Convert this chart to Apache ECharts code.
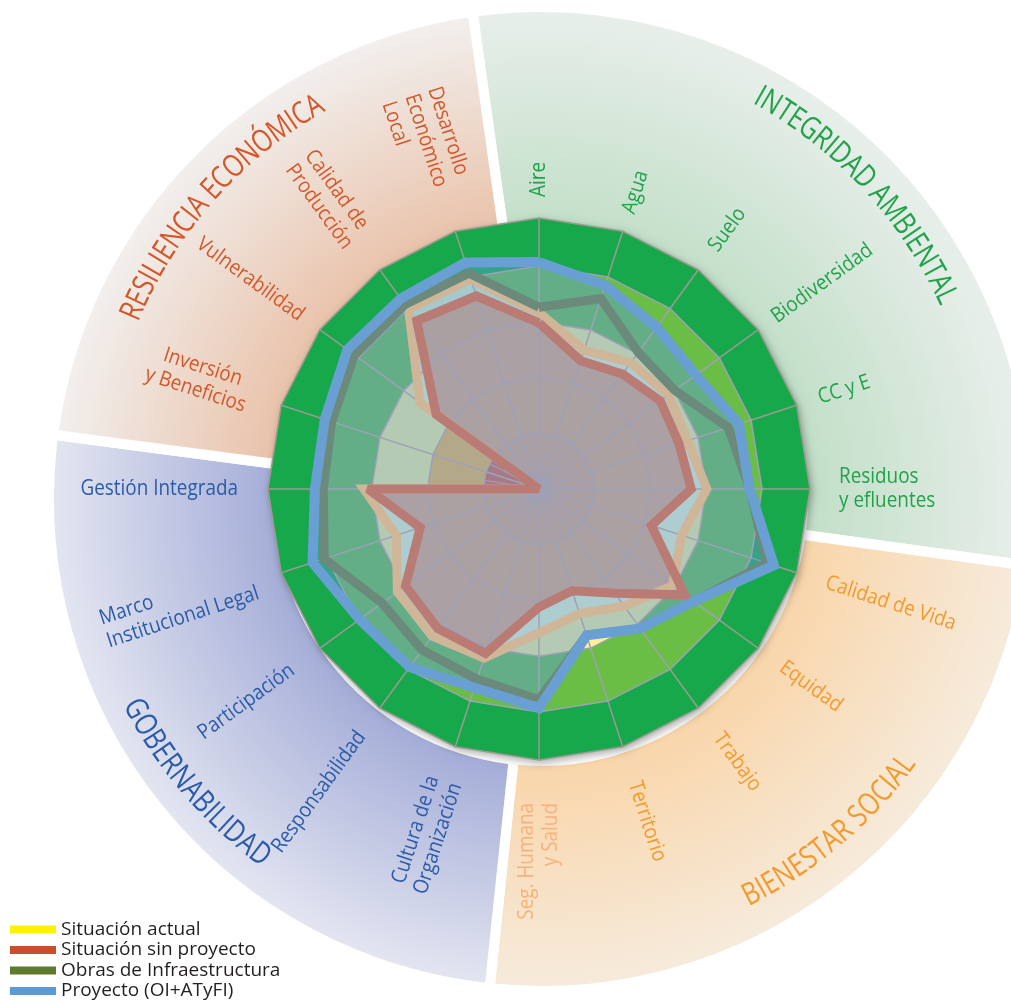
<!DOCTYPE html>
<html><head><meta charset="utf-8">
<script src="https://cdn.jsdelivr.net/npm/echarts@6/dist/echarts.min.js"></script>
<style>html,body{margin:0;padding:0;background:#fff}#c{width:1011px;height:1003px}</style>
</head><body><div id="c"></div>
<script>
// ---------------- DATA ----------------
const indicatorNames = ['Aire','Agua','Suelo','Biodiversidad','CC y E','Residuos y efluentes',
  'Calidad de Vida','Equidad','Trabajo','Territorio','Seg. Humana y Salud',
  'Cultura de la Organización','Responsabilidad','Participación','Marco Institucional Legal','Gestión Integrada',
  'Inversión y Beneficios','Vulnerabilidad','Calidad de Producción','Desarrollo Económico Local'];
const indicatorLabels = ['Aire','Agua','Suelo','Biodiversidad','CC y E','Residuos\ny efluentes',
  'Calidad de Vida','Equidad','Trabajo','Territorio','Seg. Humana\ny Salud',
  'Cultura de la\nOrganización','Responsabilidad','Participación','Marco\nInstitucional Legal','Gestión Integrada',
  'Inversión\ny Beneficios','Vulnerabilidad','Calidad de\nProducción','Desarrollo\nEconómico\nLocal'];
const indicatorGroup = [0,0,0,0,0,0,1,1,1,1,1,2,2,2,2,2,3,3,3,3];
const groupNames = ['INTEGRIDAD AMBIENTAL','BIENESTAR SOCIAL','GOBERNABILIDAD','RESILIENCIA ECONÓMICA'];
const groupSpans = [105.8, 88.2, 91.5, 74.5];          // degrees of each background sector
const seriesNames = ['Situación actual','Situación sin proyecto','Obras de Infraestructura','Proyecto (OI+ATyFI)'];
const scaleMax = 4;
const situacionActual = [3.16,2.62,2.80,2.87,2.80,3.01,2.69,2.96,2.60,2.35,2.58,3.19,3.26,3.14,2.69,3.14,0,2.64,3.98,3.96];
const sinProyecto     = [2.98,2.42,2.55,2.69,2.64,2.73,2.12,3.23,2.31,1.92,2.12,3.10,3.09,2.96,2.24,3.07,0,2.28,3.73,3.64];
const obras           = [3.26,3.59,3.03,3.01,3.57,3.78,4.30,3.43,3.09,2.76,3.78,3.59,3.57,3.48,4.05,3.87,3.91,4.09,4.09,4.07];
const proyecto        = [4.07,3.84,3.59,3.48,3.77,3.78,4.43,3.43,3.09,2.76,3.93,3.75,3.95,3.98,4.27,4.02,4.04,4.25,4.22,4.27];

// ---------------- STYLE ----------------
const C = [539, 489];
const RING_R = 271, GRID_R = 223;
const PIE_C = [541, 499];
const groupColors = ['#22a24b','#f39a2c','#2b5ba8','#d2582b'];
const sectorInner = ['#c2dfc8','#f9d6ab','#a5aed8','#e9c2a9'];
const sectorOuter = ['#e9efeb','#f6ebdc','#e4e6f1','#f2f0ef'];
const legendColors = ['#fff200','#c94f2b','#5e7a2f','#5b9bd5'];
const lineColors = ['#d0b699','#b97b74','#6b8a7c','#6a9fd4'];
const labelInnerR = [292,290,296,290,294,300,302,300,304,308,314,306,302,305,299,301,305,293,308,318];
const labelAlign = ['left','left','left','left','left','left','left','left','left','left','right',
  'right','right','right','left','right','center','right','left','left'];
const labelColorOverride = {10:'#f6b27c'};
const LABEL_FONT = '21px "Open Sans"', LABEL_SX = 0.9;
const TITLE_FONT = '31px "Open Sans"', TITLE_SX = 0.8;
const titleGeom = [ // [radius, centerAngle, outward]
  [450, 42.8, true], [458, -49.7, false], [460, 220.6, false], [443, 138.4, true]];

// ---------------- BUILD ----------------
const N = indicatorNames.length;
const toRadarOrder = a => [a[0]].concat(a.slice(1).reverse()); // radar runs counter-clockwise
const angleOf = i => 90 - 360 / N * i;
const cv = document.createElement('canvas').getContext('2d');
const measure = (t, font) => { cv.font = font; return cv.measureText(t).width; };

const graphics = [];
indicatorLabels.forEach((txt, i) => {
  const th = angleOf(i);
  const right = Math.cos(th * Math.PI / 180) > 0.01 || th === 90;
  const rot = right ? th : th - 180;
  const lines = txt.split('\n');
  const W = Math.max(...lines.map(l => measure(l, LABEL_FONT))) * LABEL_SX;
  const rc = labelInnerR[i] + W / 2;
  const tr = th * Math.PI / 180, rr = rot * Math.PI / 180;
  let x = C[0] + rc * Math.cos(tr), y = C[1] - rc * Math.sin(tr);
  const d = [Math.cos(rr), -Math.sin(rr)];
  if (labelAlign[i] === 'left') { x -= d[0] * W / 2; y -= d[1] * W / 2; }
  if (labelAlign[i] === 'right') { x += d[0] * W / 2; y += d[1] * W / 2; }
  graphics.push({type: 'text', x, y, rotation: rr, scaleX: LABEL_SX, silent: true, z: 20,
    style: {text: txt, font: LABEL_FONT, fill: labelColorOverride[i] || groupColors[indicatorGroup[i]],
      align: labelAlign[i], verticalAlign: 'middle', lineHeight: 24}});
});
groupNames.forEach((name, g) => {
  const [rc, thc, outward] = titleGeom[g];
  const chars = [...name];
  const ws = chars.map(ch => measure(ch, TITLE_FONT) * TITLE_SX);
  const total = ws.reduce((a, b) => a + b, 0);
  const totAng = total / rc * 180 / Math.PI;
  let cum = 0;
  chars.forEach((ch, k) => {
    const mid = cum + ws[k] / 2; cum += ws[k];
    const th = outward ? thc + totAng / 2 - mid / rc * 180 / Math.PI : thc - totAng / 2 + mid / rc * 180 / Math.PI;
    const t = th * Math.PI / 180;
    graphics.push({type: 'text', x: C[0] + rc * Math.cos(t), y: C[1] - rc * Math.sin(t),
      rotation: (outward ? th - 90 : th + 90) * Math.PI / 180, scaleX: TITLE_SX, silent: true, z: 20,
      style: {text: ch, font: TITLE_FONT, fill: groupColors[g], align: 'center', verticalAlign: 'middle'}});
  });
});

const ind = toRadarOrder(indicatorNames).map(n => ({name: n, min: 0, max: scaleMax}));
const baseRadar = {center: C, startAngle: 90, shape: 'polygon', indicator: ind,
  axisName: {show: false}, axisTick: {show: false}, axisLabel: {show: false}};
const gridCol = '#9ea1b7';
const radars = [
  Object.assign({}, baseRadar, {radius: RING_R, splitNumber: 1, z: 1,
    splitArea: {show: true, areaStyle: {color: ['#17a84b'], shadowBlur: 8, shadowColor: 'rgba(0,0,0,0.35)', shadowOffsetX: 2, shadowOffsetY: 3}},
    splitLine: {lineStyle: {color: '#9c9a90', width: 1.5}}, axisLine: {lineStyle: {color: '#9c9a90', width: 1.5}}}),
  Object.assign({}, baseRadar, {radius: GRID_R, splitNumber: 4, z: 2,
    splitArea: {show: true, areaStyle: {color: ['#e8604a', '#fbb54c', '#fff096', '#6abd45']}},
    splitLine: {show: false}, axisLine: {show: false}}),
  Object.assign({}, baseRadar, {radius: GRID_R, splitNumber: 4, z: 4,
    splitArea: {show: false},
    splitLine: {lineStyle: {color: gridCol, width: 1.5}}, axisLine: {lineStyle: {color: gridCol, width: 1.5}}}),
  Object.assign({}, baseRadar, {radius: 56, splitNumber: 1, z: 4,
    indicator: Array.from({length: 40}, () => ({name: '', min: 0, max: 1})),
    splitArea: {show: false}, splitLine: {show: false}, axisLine: {lineStyle: {color: gridCol, width: 1.2}}})
];

const values = [situacionActual, sinProyecto, obras, proyecto];
const fillStyle = [
  {color: '#accdd4', opacity: 0.9},
  {color: '#ab9a9c', opacity: 0.88},
  null,
  {color: '#5b9bd5', opacity: 0.45}
];
const fillOrder = [3, 2, 0, 1];
const series = [];
series.push({type: 'pie', center: PIE_C, radius: [262, 492], startAngle: 98, clockwise: true, silent: true, z: 0,
  label: {show: false}, labelLine: {show: false}, emphasis: {disabled: true},
  itemStyle: {borderColor: '#fff', borderWidth: 10},
  data: groupSpans.map((v, g) => ({value: v, name: groupNames[g], itemStyle: {color: {type: 'radial', x: PIE_C[0], y: PIE_C[1], r: 492, global: true,
    colorStops: [{offset: 0.55, color: sectorInner[g]}, {offset: 1, color: sectorOuter[g]}]}}}))});
fillOrder.forEach(k => {
  if (!fillStyle[k]) return;
  series.push({type: 'radar', radarIndex: 1, name: seriesNames[k], z: 3, symbol: 'none', silent: true,
    emphasis: {disabled: true}, lineStyle: {width: 0, opacity: 0}, itemStyle: {color: legendColors[k]},
    areaStyle: fillStyle[k], data: [{name: seriesNames[k], value: toRadarOrder(values[k])}]});
});
[0, 1, 2, 3].forEach(k => {
  series.push({type: 'radar', radarIndex: 1, name: seriesNames[k], z: 5, symbol: 'none', silent: true,
    emphasis: {disabled: true}, itemStyle: {color: legendColors[k]},
    lineStyle: {color: lineColors[k], width: k === 3 ? 10 : 9, join: 'miter', miterLimit: 3},
    data: [{name: seriesNames[k], value: toRadarOrder(values[k])}]});
});

const chart = echarts.init(document.getElementById('c'), null, {renderer: 'canvas'});
chart.setOption({
  animation: false,
  backgroundColor: '#ffffff',
  radar: radars,
  legend: {orient: 'vertical', left: 10, top: 920, height: 120, padding: 0, itemWidth: 46, itemHeight: 8, itemGap: 1.5, icon: 'rect',
    selectedMode: false, z: 20,
    textStyle: {fontFamily: 'Open Sans', fontSize: 19, color: '#231f20', lineHeight: 19},
    data: seriesNames.map((n, k) => ({name: n, itemStyle: {color: legendColors[k]}}))},
  graphic: {elements: graphics},
  series
});
</script></body></html>
